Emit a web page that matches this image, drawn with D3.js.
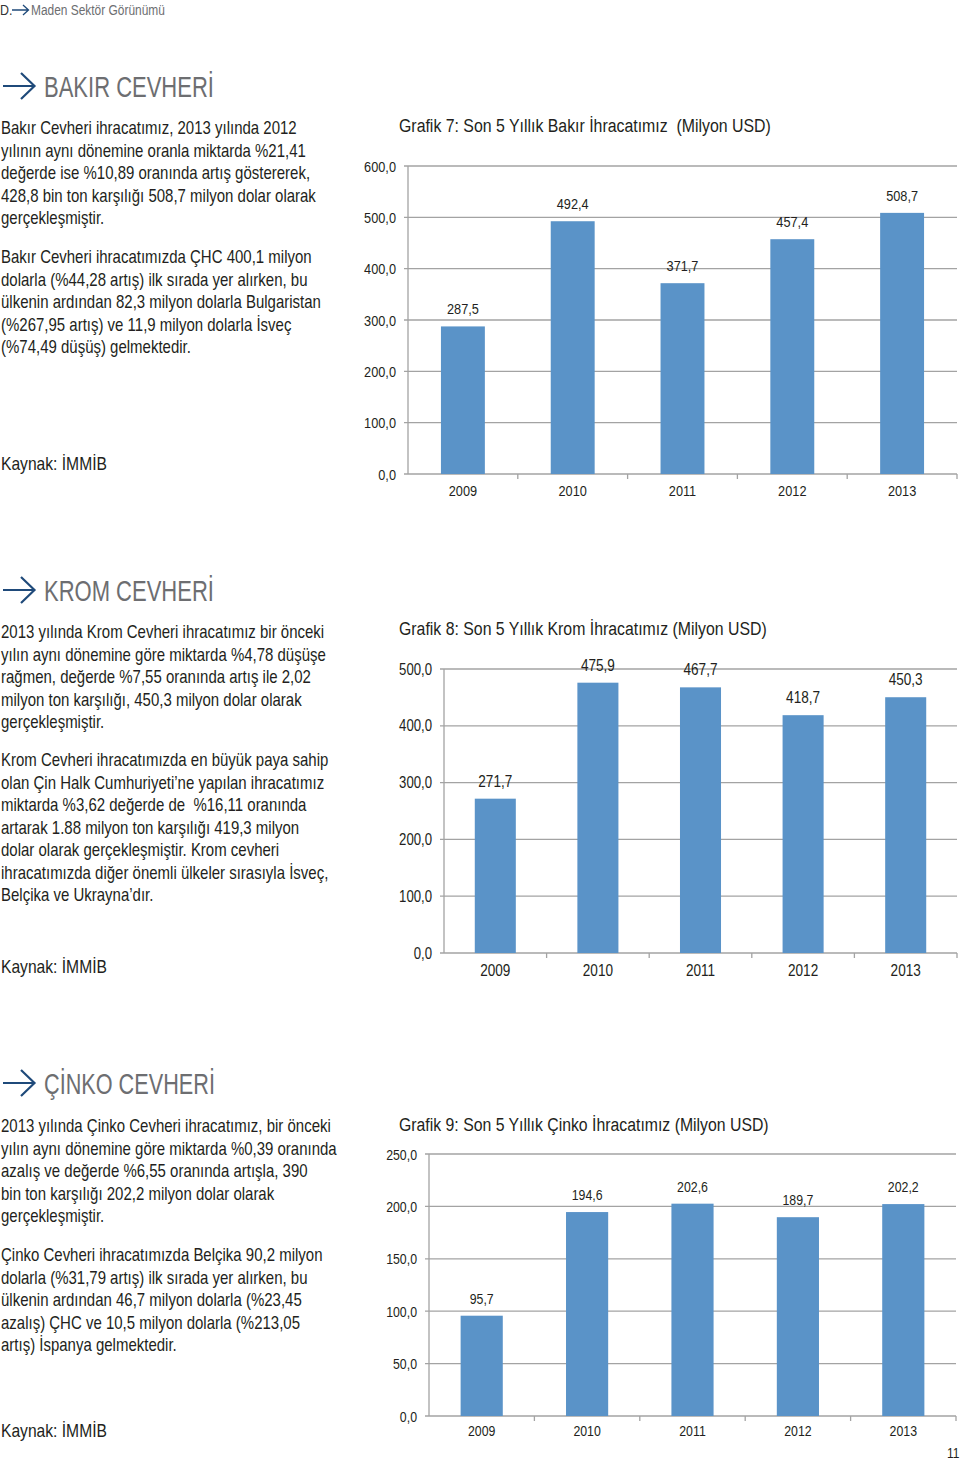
<!DOCTYPE html>
<html><head><meta charset="utf-8">
<script src="https://cdn.jsdelivr.net/npm/d3@7"></script>
<style>
html,body{margin:0;padding:0;background:#fff;}
svg{display:block;}
text{font-family:"Liberation Sans",Arial,sans-serif;white-space:pre;}
</style></head>
<body>
<svg id="page" width="960" height="1461"></svg>
<script>
// ---------------- DATA ----------------
const years = ["2009","2010","2011","2012","2013"];
const bakirValues = [287.5, 492.4, 371.7, 457.4, 508.7];
const kromValues  = [271.7, 475.9, 467.7, 418.7, 450.3];
const cinkoValues = [95.7, 194.6, 202.6, 189.7, 202.2];
const bakirTicks = [0,100,200,300,400,500,600];
const kromTicks  = [0,100,200,300,400,500];
const cinkoTicks = [0,50,100,150,200,250];

const bakirTitle = "Grafik 7: Son 5 Yıllık Bakır İhracatımız  (Milyon USD)";
const kromTitle  = "Grafik 8: Son 5 Yıllık Krom İhracatımız (Milyon USD)";
const cinkoTitle = "Grafik 9: Son 5 Yıllık Çinko İhracatımız (Milyon USD)";

const bakirPara1 = ["Bakır Cevheri ihracatımız, 2013 yılında 2012","yılının aynı dönemine oranla miktarda %21,41","değerde ise %10,89 oranında artış göstererek,","428,8 bin ton karşılığı 508,7 milyon dolar olarak","gerçekleşmiştir."];
const bakirPara2 = ["Bakır Cevheri ihracatımızda ÇHC 400,1 milyon","dolarla (%44,28 artış) ilk sırada yer alırken, bu","ülkenin ardından 82,3 milyon dolarla Bulgaristan","(%267,95 artış) ve 11,9 milyon dolarla İsveç","(%74,49 düşüş) gelmektedir."];
const kromPara1 = ["2013 yılında Krom Cevheri ihracatımız bir önceki","yılın aynı dönemine göre miktarda %4,78 düşüşe","rağmen, değerde %7,55 oranında artış ile 2,02","milyon ton karşılığı, 450,3 milyon dolar olarak","gerçekleşmiştir."];
const kromPara2 = ["Krom Cevheri ihracatımızda en büyük paya sahip","olan Çin Halk Cumhuriyeti’ne yapılan ihracatımız","miktarda %3,62 değerde de  %16,11 oranında","artarak 1.88 milyon ton karşılığı 419,3 milyon","dolar olarak gerçekleşmiştir. Krom cevheri","ihracatımızda diğer önemli ülkeler sırasıyla İsveç,","Belçika ve Ukrayna’dır."];
const cinkoPara1 = ["2013 yılında Çinko Cevheri ihracatımız, bir önceki","yılın aynı dönemine göre miktarda %0,39 oranında","azalış ve değerde %6,55 oranında artışla, 390","bin ton karşılığı 202,2 milyon dolar olarak","gerçekleşmiştir."];
const cinkoPara2 = ["Çinko Cevheri ihracatımızda Belçika 90,2 milyon","dolarla (%31,79 artış) ilk sırada yer alırken, bu","ülkenin ardından 46,7 milyon dolarla (%23,45","azalış) ÇHC ve 10,5 milyon dolarla (%213,05","artış) İspanya gelmektedir."];
const headings = ["BAKIR CEVHERİ","KROM CEVHERİ","ÇİNKO CEVHERİ"];
const sourceText = "Kaynak: İMMİB";

// ---------------- STYLE ----------------
const BAR = "#5a93c8", GRID = "#a3a3a3", TXT = "#231f20", HEAD = "#6d6e71", ARROW = "#1f4a7a";
const svg = d3.select("#page");
svg.append("rect").attr("width",960).attr("height",1461).attr("fill","#fff");

// condensation factor measured from a reference line
const probe = svg.append("text").attr("font-size",17.5).text(bakirPara1[0]);
const SX = 296 / probe.node().getComputedTextLength();
probe.remove();

function txt(x, y, s, size, opt={}) {
  const t = svg.append("text")
    .attr("font-size", size)
    .attr("fill", opt.fill || TXT)
    .attr("text-anchor", opt.anchor || "start")
    .attr("font-weight", opt.weight || "normal")
    .text(s);
  let sx = opt.sx || SX;
  if (opt.fit) sx = opt.fit / t.node().getComputedTextLength();
  t.attr("transform", `translate(${x},${y}) scale(${sx},1)`);
  return t;
}

// ---------------- HEADER ----------------
txt(0, 15, "D.", 14.5, {fill:"#333"});
svg.append("path").attr("d","M12,10 H28 M23,5 L28.5,10 L23,15").attr("stroke",ARROW).attr("stroke-width",1.3).attr("fill","none");
txt(31, 15, "Maden Sektör Görünümü", 14.5, {fill:HEAD, fit:134});
txt(947, 1458, "11", 14, {fill:TXT});

function heading(y, s, w) {
  svg.append("path").attr("d",`M3,${y} H34 M21,${y-13} L34.5,${y} L21,${y+13}`)
    .attr("stroke",ARROW).attr("stroke-width",2.2).attr("fill","none");
  txt(44, y+11, s, 30, {fill:HEAD, fit:w});
}
function para(lines, y0) {
  lines.forEach((l,i) => txt(1, y0 + i*22.5 + 6, l, 17.5));
}

heading(86, headings[0], 170);
para(bakirPara1, 128);
para(bakirPara2, 257);
txt(1, 470, sourceText, 18, {fit:106});

heading(590, headings[1], 170);
para(kromPara1, 632);
para(kromPara2, 760);
txt(1, 973, sourceText, 18, {fit:106});

heading(1083, headings[2], 171);
para(cinkoPara1, 1126);
para(cinkoPara2, 1255);
txt(1, 1437, sourceText, 18, {fit:106});

// ---------------- CHARTS ----------------
const fmt = v => d3.format(".1f")(v).replace(".", ",");

function barChart(cfg, values, ticks, title) {
  const g = svg.append("g");
  const max = ticks[ticks.length-1];
  const x = d3.scaleBand().domain(years).range([cfg.x0, cfg.x1]).paddingInner(0.6).paddingOuter(0.3);
  const y = d3.scaleLinear().domain([0, max]).range([cfg.y0, cfg.yTop]);
  const step = (cfg.x1 - cfg.x0) / years.length;
  const csx = SX * 0.96;

  txt(399, cfg.titleY + 6.5, title, 19, {fit:cfg.titleW});

  ticks.forEach(t => {
    if (t > 0) g.append("line").attr("x1", cfg.x0 - 4).attr("x2", cfg.x1)
      .attr("y1", y(t)).attr("y2", y(t)).attr("stroke", GRID).attr("stroke-width", 1.3);
    txt(cfg.x0 - 12, y(t) + 5.5, fmt(t), cfg.tick, {anchor:"end", sx:csx});
  });
  g.append("line").attr("x1", cfg.x0).attr("x2", cfg.x0).attr("y1", y(max)).attr("y2", y(0))
    .attr("stroke", GRID).attr("stroke-width", 1.3);
  g.append("line").attr("x1", cfg.x0 - 4).attr("x2", cfg.x1).attr("y1", y(0)).attr("y2", y(0))
    .attr("stroke", GRID).attr("stroke-width", 1.3);
  d3.range(1, years.length + 1).forEach(i => {
    g.append("line").attr("x1", cfg.x0 + i*step).attr("x2", cfg.x0 + i*step)
      .attr("y1", y(0)).attr("y2", y(0) + 5).attr("stroke", GRID).attr("stroke-width", 1.3);
  });
  g.selectAll("rect.bar").data(values).join("rect").attr("class","bar")
    .attr("x", (d,i) => x(years[i])).attr("width", x.bandwidth())
    .attr("y", d => y(d)).attr("height", d => y(0) - y(d)).attr("fill", BAR);
  values.forEach((v,i) => {
    const cx = x(years[i]) + x.bandwidth()/2;
    txt(cx, y(v) - 12, fmt(v), cfg.val, {anchor:"middle", sx:csx});
    txt(cx, y(0) + cfg.xlabOff, years[i], cfg.xlab, {anchor:"middle", sx:csx});
  });
}

barChart({x0:408, x1:957, y0:474, yTop:166, titleY:125, titleW:372, tick:15.5, val:15.5, xlab:15.5, xlabOff:22}, bakirValues, bakirTicks, bakirTitle);
barChart({x0:444, x1:957, y0:953, yTop:669, titleY:628, titleW:368, tick:16, val:16.5, xlab:16.5, xlabOff:23}, kromValues, kromTicks, kromTitle);
barChart({x0:429, x1:956, y0:1416, yTop:1154, titleY:1124, titleW:370, tick:15, val:15, xlab:15, xlabOff:20}, cinkoValues, cinkoTicks, cinkoTitle);
</script>
</body></html>
